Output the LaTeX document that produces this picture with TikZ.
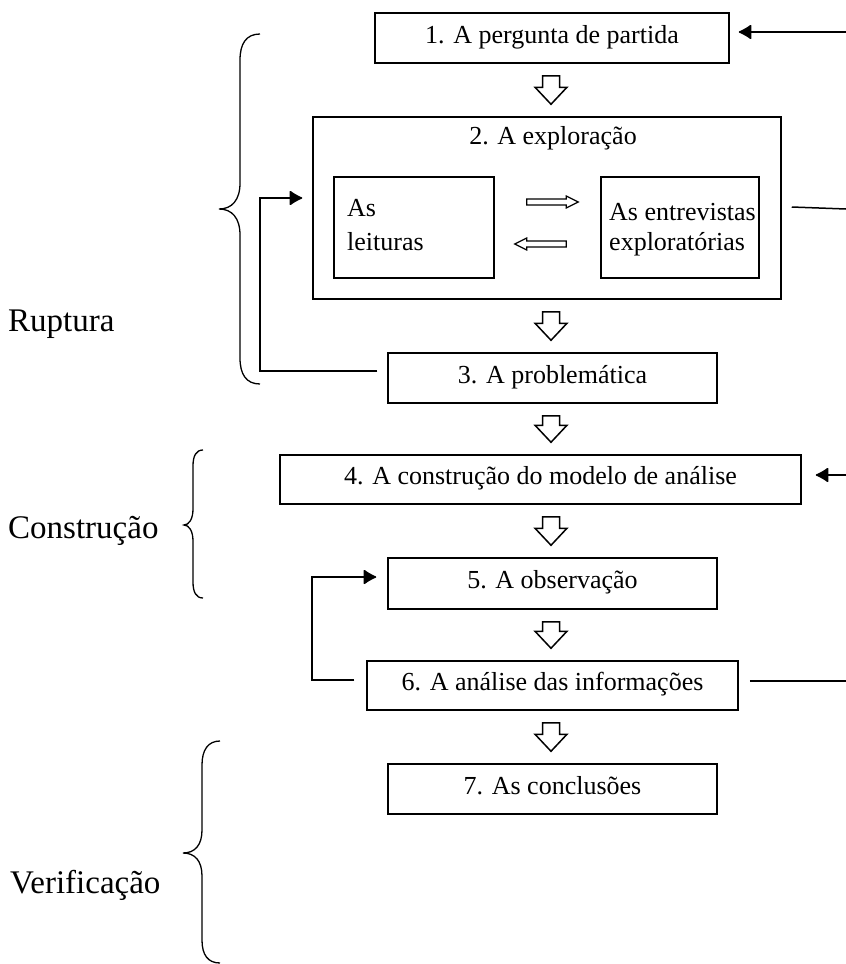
\documentclass[tikz,border=0pt]{standalone}
\usepackage{fontspec}
\setmainfont{Liberation Serif}
\usetikzlibrary{calc,arrows.meta}
\begin{document}
\begin{tikzpicture}[x=1pt,y=-1pt,
  box/.style={draw,line width=1.5pt,inner sep=0pt,font=\fontsize{26}{30}\selectfont,text height=17pt,text depth=7pt},
  ln/.style={line width=1.5pt},
  fb/.style={line width=1.5pt,-{Latex[round,length=14pt,width=16pt]}},
  hollow/.style={draw,line width=1.5pt,fill=white,line join=miter},
  brace/.style={line width=1.3pt},
  lab/.style={font=\fontsize{33}{38}\selectfont,anchor=base west,inner sep=0pt},
  intext/.style={font=\fontsize{26}{30}\selectfont,anchor=base west,inner sep=0pt}]
\useasboundingbox (0,0) rectangle (846,964);

% main boxes
\node[box,minimum width=354pt,minimum height=50pt] (b1) at (552,38) {1. A pergunta de partida};
\node[box,minimum width=468pt,minimum height=182pt] (b2) at (547,208) {};
\node[intext,anchor=base] (t2) at (553,144) {2. A exploração};
\node[box,minimum width=160pt,minimum height=101pt] (leit) at (414,227.5) {};
\node[intext] (leit1) at (347,216) {As};
\node[intext] (leit2) at (347,250) {leituras};
\node[box,minimum width=158pt,minimum height=101pt] (entr) at (680,227.5) {};
\node[intext] (entr1) at (609,220) {As entrevistas};
\node[intext] (entr2) at (609,250) {exploratórias};
\node[box,minimum width=329pt,minimum height=50pt] (b3) at (552.5,378) {3. A problemática};
\node[box,minimum width=521pt,minimum height=49pt] (b4) at (540.5,479.5) {4. A construção do modelo de análise};
\node[box,minimum width=329pt,minimum height=51pt] (b5) at (552.5,583.5) {5. A observação};
\node[box,minimum width=371pt,minimum height=49pt] (b6) at (552.5,685.5) {6. A análise das informações};
\node[box,minimum width=329pt,minimum height=50pt] (b7) at (552.5,789) {7. As conclusões};

% labels
\node[lab] (lr) at (8,331) {Ruptura};
\node[lab] (lc) at (8,538) {Construção};
\node[lab] (lv) at (10,893) {Verificação};

% hollow down arrows
\coordinate (ax) at (551,0);
\newcommand\hdown[2]{%
  \path (ax |- #1.south) coordinate (ht) (ax |- #2.north) coordinate (hb);
  \draw[hollow] ($(ht)+(-8.5,12)$) -- ($(ht)+(8.5,12)$) -- ($(hb)+(8.5,-29)$) -- ($(hb)+(16,-29)$) -- ($(hb)+(0,-12)$) -- ($(hb)+(-16,-29)$) -- ($(hb)+(-8.5,-29)$) -- cycle;}
\hdown{b1}{b2}
\hdown{b2}{b3}
\hdown{b3}{b4}
\hdown{b4}{b5}
\hdown{b5}{b6}
\hdown{b6}{b7}

% inner hollow arrows
\coordinate (ra) at ($(leit.east)+(32,-25.5)$);
\coordinate (rb) at ($(entr.west)+(-22,-25.5)$);
\draw[hollow,line width=1.2pt] ($(ra)+(0,-3)$) -- ($(rb)+(-12,-3)$) -- ($(rb)+(-12,-6)$) -- (rb) -- ($(rb)+(-12,6)$) -- ($(rb)+(-12,3)$) -- ($(ra)+(0,3)$) -- cycle;
\coordinate (la) at ($(entr.west)+(-34,16.5)$);
\coordinate (lb) at ($(leit.east)+(20,16.5)$);
\draw[hollow,line width=1.2pt] ($(la)+(0,-3)$) -- ($(lb)+(12,-3)$) -- ($(lb)+(12,-6)$) -- (lb) -- ($(lb)+(12,6)$) -- ($(lb)+(12,3)$) -- ($(la)+(0,3)$) -- cycle;

% feedback lines on the right
\coordinate (r1) at (846,32);
\draw[fb] (r1) -- ($(b1.east)+(9,-6)$);
\coordinate (r2) at (846,209);
\draw[ln] ($(b2.east)+(10,-1)$) -- (r2);
\coordinate (r4) at (846,475);
\draw[fb] (r4) -- ($(b4.east)+(14,-4.5)$);
\coordinate (r6) at (846,681);
\draw[ln] ($(b6.east)+(11,-4.5)$) -- (r6);

% loops on the left
\coordinate (l1) at (260,0);
\coordinate (s1) at ($(b3.west)+(-10,-7)$);
\coordinate (e1) at ($(b2.west)+(-10,-10)$);
\draw[fb] (s1) -- (s1 -| l1) -- (e1 -| l1) -- (e1);
\coordinate (l2) at (312,0);
\coordinate (s2) at ($(b6.west)+(-12,-5.5)$);
\coordinate (e2) at ($(b5.west)+(-11,-6.5)$);
\draw[fb] (s2) -- (s2 -| l2) -- (e2 -| l2) -- (e2);

% braces
\draw[brace] (260,34) .. controls (246,34) and (240,44) .. (240,60) -- (240,183) .. controls (240,200) and (232,209) .. (219,209) .. controls (232,209) and (240,218) .. (240,235) -- (240,358) .. controls (240,374) and (246,384) .. (260,384);
\draw[brace] (203,450) .. controls (196,450) and (193,456) .. (193,466) -- (193,509) .. controls (193,519) and (189,525) .. (184,525) .. controls (189,525) and (193,531) .. (193,541) -- (193,582) .. controls (193,592) and (196,598) .. (203,598);
\draw[brace] (220,741) .. controls (208,741) and (202,750) .. (202,765) -- (202,830) .. controls (202,845) and (195,853) .. (183,853) .. controls (195,853) and (202,861) .. (202,876) -- (202,940) .. controls (202,955) and (208,963) .. (220,963);
\end{tikzpicture}
\end{document}
